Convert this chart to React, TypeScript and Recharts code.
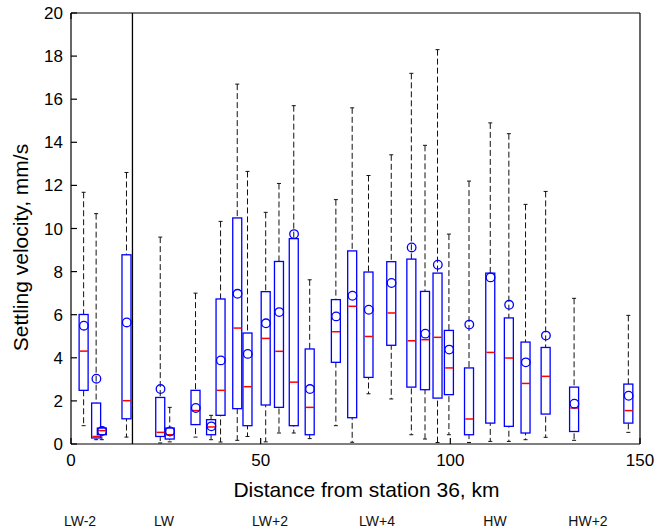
import { ComposedChart, Bar, Scatter, XAxis, YAxis, ReferenceLine } from 'recharts'

// distance of each sampling station, km
const positions = [3.4, 6.7, 8.2, 14.7, 23.6, 26.1, 32.9, 37.0, 39.5, 43.9, 46.6, 51.4, 54.9, 58.8, 63.0, 69.9, 74.2, 78.5, 84.5, 89.8, 93.4, 96.7, 99.7, 105.0, 110.6, 115.5, 119.9, 125.2, 132.7, 147.0]
const whiskerLow = [0.85, 0.2, 0.2, 0.32, 0.05, 0.1, 0.32, 0.2, 0.09, 0.17, 0.35, 0.1, 0.51, 0.51, 0.25, 0.85, 0.08, 2.33, 2.09, 0.43, 0.23, 0.07, 0.43, 0.07, 0.12, 0.12, 0.2, 0.31, 0.17, 0.54]
const q1 = [2.49, 0.28, 0.43, 1.17, 0.35, 0.23, 0.9, 0.43, 1.33, 1.64, 0.85, 1.81, 1.7, 0.85, 0.43, 3.79, 1.22, 3.09, 4.58, 2.64, 2.52, 2.13, 2.29, 0.43, 0.97, 0.82, 0.51, 1.39, 0.58, 0.97]
const medians = [4.31, 0.35, 0.62, 2.01, 0.54, 0.43, 1.55, 0.79, 2.49, 5.38, 2.66, 4.9, 4.3, 2.87, 1.7, 5.21, 6.39, 4.99, 6.08, 4.79, 4.84, 4.95, 3.53, 1.16, 4.25, 3.99, 2.81, 3.14, 1.67, 1.55]
const q3 = [6.01, 1.9, 0.74, 8.78, 2.16, 0.74, 2.49, 1.13, 6.73, 10.49, 5.15, 7.07, 8.47, 9.53, 4.41, 6.7, 8.96, 7.98, 8.46, 8.58, 7.08, 7.93, 5.27, 3.53, 7.93, 5.85, 4.73, 4.48, 2.64, 2.78]
const whiskerHigh = [11.68, 10.69, 0.78, 12.6, 9.6, 1.7, 7.0, 1.33, 10.33, 16.7, 12.65, 10.75, 12.09, 15.7, 7.62, 11.34, 15.6, 12.46, 13.42, 17.2, 13.86, 18.3, 9.74, 12.2, 14.9, 14.4, 11.12, 11.72, 6.76, 5.97]
const means = [5.49, 3.03, 0.6, 5.64, 2.55, 0.58, 1.67, 0.82, 3.88, 6.97, 4.18, 5.6, 6.12, 9.74, 2.55, 5.92, 6.88, 6.23, 7.47, 9.12, 5.12, 8.32, 4.38, 5.54, 7.73, 6.46, 3.79, 5.03, 1.87, 2.24]

const xTicks = [0, 50, 100, 150]
const yTicks = [0, 2, 4, 6, 8, 10, 12, 14, 16, 18, 20]
const divider = 16.2

const phaseLabels = ['LW-2', 'LW', 'LW+2', 'LW+4', 'HW', 'HW+2']
const phaseLeft = [80, 164, 270, 377, 495, 588]

const boxes = positions.map((x, i) => ({
  x,
  range: [whiskerLow[i], whiskerHigh[i]],
  lo: whiskerLow[i],
  q1: q1[i],
  med: medians[i],
  q3: q3[i],
  hi: whiskerHigh[i],
  mean: means[i],
}))

const BOX_W = 9
const BLUE = '#0000ff'
const font = '"Liberation Sans", Arial, sans-serif'

// whiskers + box; bar spans lo..hi so inner values are placed along it
function BoxShape(props: any) {
  const { x, y, width, height, payload } = props
  if (payload == null) return null
  const top = Math.min(y, y + height)
  const bot = Math.max(y, y + height)
  const cx = x + width / 2
  const py = (v: number) => bot - ((v - payload.lo) / (payload.hi - payload.lo)) * (bot - top)
  const bTop = py(payload.q3)
  const bBot = py(payload.q1)
  return (
    <g>
      <line x1={cx} x2={cx} y1={top} y2={bot} stroke="#111" strokeWidth={1} strokeDasharray="6 3" />
      <line x1={cx - 2} x2={cx + 2} y1={top} y2={top} stroke="#111" strokeWidth={1} />
      <line x1={cx - 2} x2={cx + 2} y1={bot} y2={bot} stroke="#111" strokeWidth={1} />
      <rect x={cx - BOX_W / 2} y={bTop} width={BOX_W} height={bBot - bTop} fill="#fff" stroke={BLUE} strokeWidth={1.3} />
    </g>
  )
}

function MedianMark(props: any) {
  const { cx, cy } = props
  return <line x1={cx - 4} x2={cx + 4} y1={cy} y2={cy} stroke="#ff0000" strokeWidth={1.5} />
}

function MeanMark(props: any) {
  const { cx, cy } = props
  return <circle cx={cx} cy={cy} r={4.3} fill="none" stroke={BLUE} strokeWidth={1.3} />
}

function YLabel(props: any) {
  const vb = props.viewBox
  const lx = vb.x - 1
  const ly = vb.y + vb.height / 2 + 19
  return (
    <text x={lx} y={ly} transform={`rotate(-90, ${lx}, ${ly})`} textAnchor="middle" dominantBaseline="central" fill="#000" fontSize={21} fontFamily={font}>
      Settling velocity, mm/s
    </text>
  )
}

const blank = () => ''

export default function App() {
  return (
    <div style={{ position: 'absolute', left: 0, top: 0, width: 659, height: 532, background: '#fff', fontFamily: font }}>
      <ComposedChart width={659} height={532} data={boxes} margin={{ top: 12, right: 18, bottom: 28, left: 21 }}>
        <XAxis
          dataKey="x"
          type="number"
          domain={[0, 150]}
          ticks={xTicks}
          allowDataOverflow
          height={60}
          tickSize={-6}
          tickMargin={16}
          tick={{ fill: '#000', fontSize: 17, fontFamily: font }}
          stroke="#000"
          strokeWidth={1.2}
          label={{ value: 'Distance from station 36, km', position: 'insideTop', offset: 38, dx: 11, fill: '#000', fontSize: 21, fontFamily: font }}
        />
        <XAxis
          xAxisId="top"
          orientation="top"
          type="number"
          domain={[0, 150]}
          ticks={xTicks}
          height={1}
          tickSize={-6}
          tickFormatter={blank}
          stroke="#000"
          strokeWidth={1.2}
        />
        <YAxis
          type="number"
          domain={[0, 20]}
          ticks={yTicks}
          allowDataOverflow
          width={50}
          tickSize={-6}
          tickMargin={14}
          tick={{ fill: '#000', fontSize: 17, fontFamily: font }}
          stroke="#000"
          strokeWidth={1.2}
          label={{ content: YLabel }}
        />
        <YAxis
          yAxisId="right"
          orientation="right"
          type="number"
          domain={[0, 20]}
          ticks={yTicks}
          width={1}
          tickSize={-6}
          tickFormatter={blank}
          stroke="#000"
          strokeWidth={1.2}
        />
        <ReferenceLine x={divider} stroke="#000" strokeWidth={1.3} />
        <Bar dataKey="range" barSize={BOX_W} shape={BoxShape} isAnimationActive={false} />
        <Scatter data={boxes} dataKey="med" shape={MedianMark} isAnimationActive={false} />
        <Scatter data={boxes} dataKey="mean" shape={MeanMark} isAnimationActive={false} />
      </ComposedChart>
      {phaseLabels.map((t, i) => (
        <div
          key={t}
          style={{ position: 'absolute', left: phaseLeft[i], top: 513, transform: 'translateX(-50%)', fontSize: 14, color: '#111', whiteSpace: 'nowrap', lineHeight: '16px' }}
        >
          {t}
        </div>
      ))}
    </div>
  )
}
